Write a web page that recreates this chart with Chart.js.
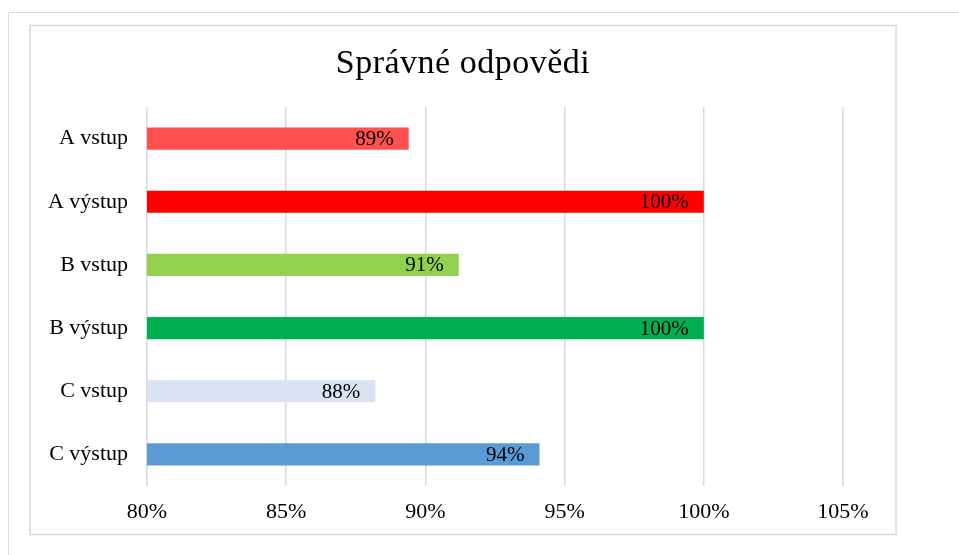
<!DOCTYPE html>
<html>
<head>
<meta charset="utf-8">
<script src="https://cdn.jsdelivr.net/npm/chart.js@4.4.1/dist/chart.umd.min.js"></script>
<style>
  html, body { margin: 0; padding: 0; background: #fff; }
  #wrap { width: 959px; height: 555px; position: relative; }
</style>
</head>
<body>
<div id="wrap"><canvas id="c" width="959" height="555"></canvas></div>
<script>
const chartTitle = "Správné odpovědi";
const categories = ["A vstup", "A výstup", "B vstup", "B výstup", "C vstup", "C výstup"];
const values = [89.4, 100, 91.2, 100, 88.2, 94.1];
const barColors = ["#FF5050", "#FF0000", "#92D050", "#00B050", "#DAE3F3", "#5B9BD5"];
const xTicks = [80, 85, 90, 95, 100, 105];

const FONT = "'Liberation Serif', 'Times New Roman', serif";

const framePlugin = {
  id: 'frame',
  beforeDraw(chart) {
    const ctx = chart.ctx;
    ctx.save();
    ctx.fillStyle = '#fff';
    ctx.fillRect(0, 0, chart.width, chart.height);
    ctx.strokeStyle = '#d9d9d9';
    ctx.lineWidth = 1;
    ctx.beginPath();
    ctx.moveTo(8.5, 555);
    ctx.lineTo(8.5, 12.5);
    ctx.lineTo(959, 12.5);
    ctx.stroke();
    ctx.lineWidth = 1.5;
    ctx.strokeRect(30, 25.5, 866, 509);
    ctx.fillStyle = '#000';
    ctx.font = "34px " + FONT;
    if ('letterSpacing' in ctx) ctx.letterSpacing = '0.5px';
    ctx.textAlign = 'center';
    ctx.textBaseline = 'middle';
    ctx.fillText(chartTitle, 463, 64);
    ctx.restore();
  }
};

const valueLabels = {
  id: 'valueLabels',
  afterDatasetsDraw(chart) {
    const ctx = chart.ctx;
    const meta = chart.getDatasetMeta(0);
    ctx.save();
    ctx.fillStyle = '#000';
    ctx.font = "21px " + FONT;
    ctx.textAlign = 'right';
    ctx.textBaseline = 'middle';
    meta.data.forEach((bar, i) => {
      ctx.fillText(Math.round(values[i]) + '%', bar.x - 15, bar.y + 1);
    });
    ctx.restore();
  }
};

new Chart(document.getElementById('c'), {
  type: 'bar',
  data: {
    labels: categories,
    datasets: [{
      data: values,
      backgroundColor: barColors,
      borderWidth: 0,
      barPercentage: 0.35,
      categoryPercentage: 1.0
    }]
  },
  options: {
    indexAxis: 'y',
    responsive: false,
    animation: false,
    devicePixelRatio: 1,
    layout: { padding: { top: 107, right: 116, bottom: 0, left: 0 } },
    plugins: {
      legend: { display: false },
      title: { display: false },
      tooltip: { enabled: false }
    },
    scales: {
      x: {
        min: 80, max: 105,
        afterBuildTicks(scale) { scale.ticks = xTicks.map(v => ({ value: v })); },
        afterFit(scale) { scale.height = 69; },
        grid: { color: '#d9d9d9', lineWidth: 1.5, drawTicks: false },
        border: { display: false },
        ticks: {
          padding: 13,
          color: '#000',
          font: { family: FONT, size: 22 },
          callback: v => v + '%',
          maxRotation: 0
        }
      },
      y: {
        afterFit(scale) { scale.width = 147; },
        grid: { display: false, drawTicks: false },
        border: { display: false },
        ticks: {
          padding: 19,
          color: '#000',
          font: { family: FONT, size: 22 }
        }
      }
    }
  },
  plugins: [framePlugin, valueLabels]
});
</script>
</body>
</html>
